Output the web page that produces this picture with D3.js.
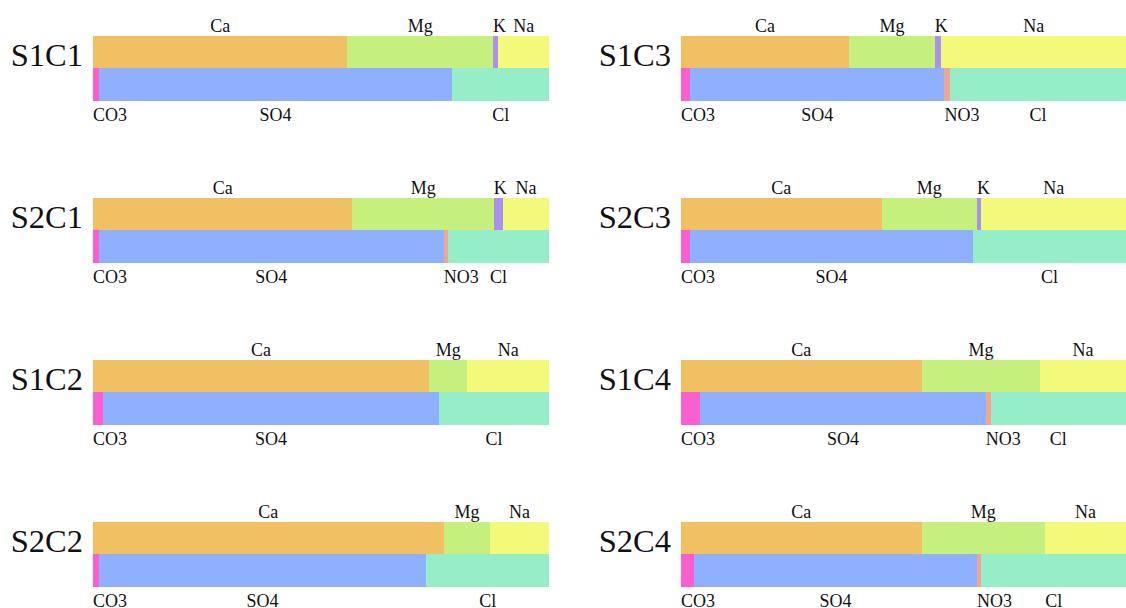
<!DOCTYPE html>
<html><head><meta charset="utf-8">
<script src="https://cdn.jsdelivr.net/npm/d3@7"></script>
<style>
html,body{margin:0;padding:0;background:#fff;overflow:hidden;}
</style></head>
<body><svg id="chart" width="1126" height="608"></svg>
<script>
// Panel names in grid order (row by row: left column, right column)
const panels = ["S1C1","S1C3","S2C1","S2C3","S1C2","S1C4","S2C2","S2C4"];
const cations = ["Ca","Mg","K","Na"];
const anions = ["CO3","SO4","NO3","Cl"];
// percentage values per ion, one entry per panel
const Ca  = [55.8, 37.8, 56.9, 45.1, 73.7, 54.1, 76.9, 54.1];
const Mg  = [31.9, 19.2, 31.0, 21.4,  8.4, 26.6, 10.2, 27.7];
const K   = [ 1.2,  1.5,  2.0,  1.0,  0,    0,    0,    0  ];
const Na  = [11.1, 41.5, 10.1, 32.5, 17.9, 19.3, 12.9, 18.2];
const CO3 = [ 1.3,  2.0,  1.3,  2.0,  2.2,  4.3,  1.3,  2.9];
const SO4 = [77.5, 57.2, 75.6, 63.6, 73.7, 64.2, 71.8, 63.6];
const NO3 = [ 0,    1.3,  0.9,  0,    0,    1.1,  0,    1.0];
const Cl  = [21.2, 39.5, 22.2, 34.4, 24.1, 30.4, 26.9, 32.5];

const ionValues = {Ca, Mg, K, Na, CO3, SO4, NO3, Cl};
const colors = {
  Ca:"#f0c062", Mg:"#c5f07e", K:"#a992ea", Na:"#f3f978",
  CO3:"#fa5fcf", SO4:"#8fb0fe", NO3:"#f0a690", Cl:"#96eec9"
};
const FONT = "'Liberation Serif', 'Times New Roman', Times, 'DejaVu Serif', serif";

const svg = d3.select("#chart").attr("font-family", FONT);
const colRange = [[93, 549], [681, 1126]];
const rowY = d3.scaleLinear().domain([0, 3]).range([35.5, 521.5]);
const topH = 32, botH = 33.5;

panels.forEach((name, i) => {
  const col = i % 2, row = Math.floor(i / 2);
  const [x0, x1] = colRange[col];
  const y0 = rowY(row);
  const g = svg.append("g");

  g.append("text")
    .attr("x", x0 - 10).attr("y", y0 + 30.8)
    .attr("text-anchor", "end")
    .attr("font-family", FONT)
    .attr("font-size", 32.5)
    .attr("fill", "#111")
    .text(name);

  function drawBar(ions, yTop, h, isTop) {
    const vals = ions.map(k => ({key: k, v: ionValues[k][i]}));
    const total = d3.sum(vals, d => d.v);
    const x = d3.scaleLinear().domain([0, total]).range([x0, x1]);
    let acc = 0;
    vals.forEach(d => { d.start = acc; acc += d.v; d.end = acc; });
    const segs = vals.filter(d => d.v > 0);
    g.selectAll(null).data(segs).enter().append("rect")
      .attr("x", d => x(d.start))
      .attr("width", d => x(d.end) - x(d.start))
      .attr("y", yTop).attr("height", h)
      .attr("fill", d => colors[d.key])
      .attr("shape-rendering", "crispEdges");
    segs.forEach(d => {
      const t = g.append("text")
        .attr("font-family", FONT)
        .attr("font-size", 18)
        .attr("fill", "#111")
        .attr("y", isTop ? yTop - 4 : yTop + h + 19.5)
        .text(d.key);
      const w = t.node().getComputedTextLength();
      const sw = x(d.end) - x(d.start);
      if (sw < w) {
        t.attr("x", x(d.start)).attr("text-anchor", "start");
      } else {
        t.attr("x", (x(d.start) + x(d.end)) / 2).attr("text-anchor", "middle");
      }
    });
  }
  drawBar(cations, y0, topH, true);
  drawBar(anions, y0 + topH, botH, false);
});
</script>
</body></html>
